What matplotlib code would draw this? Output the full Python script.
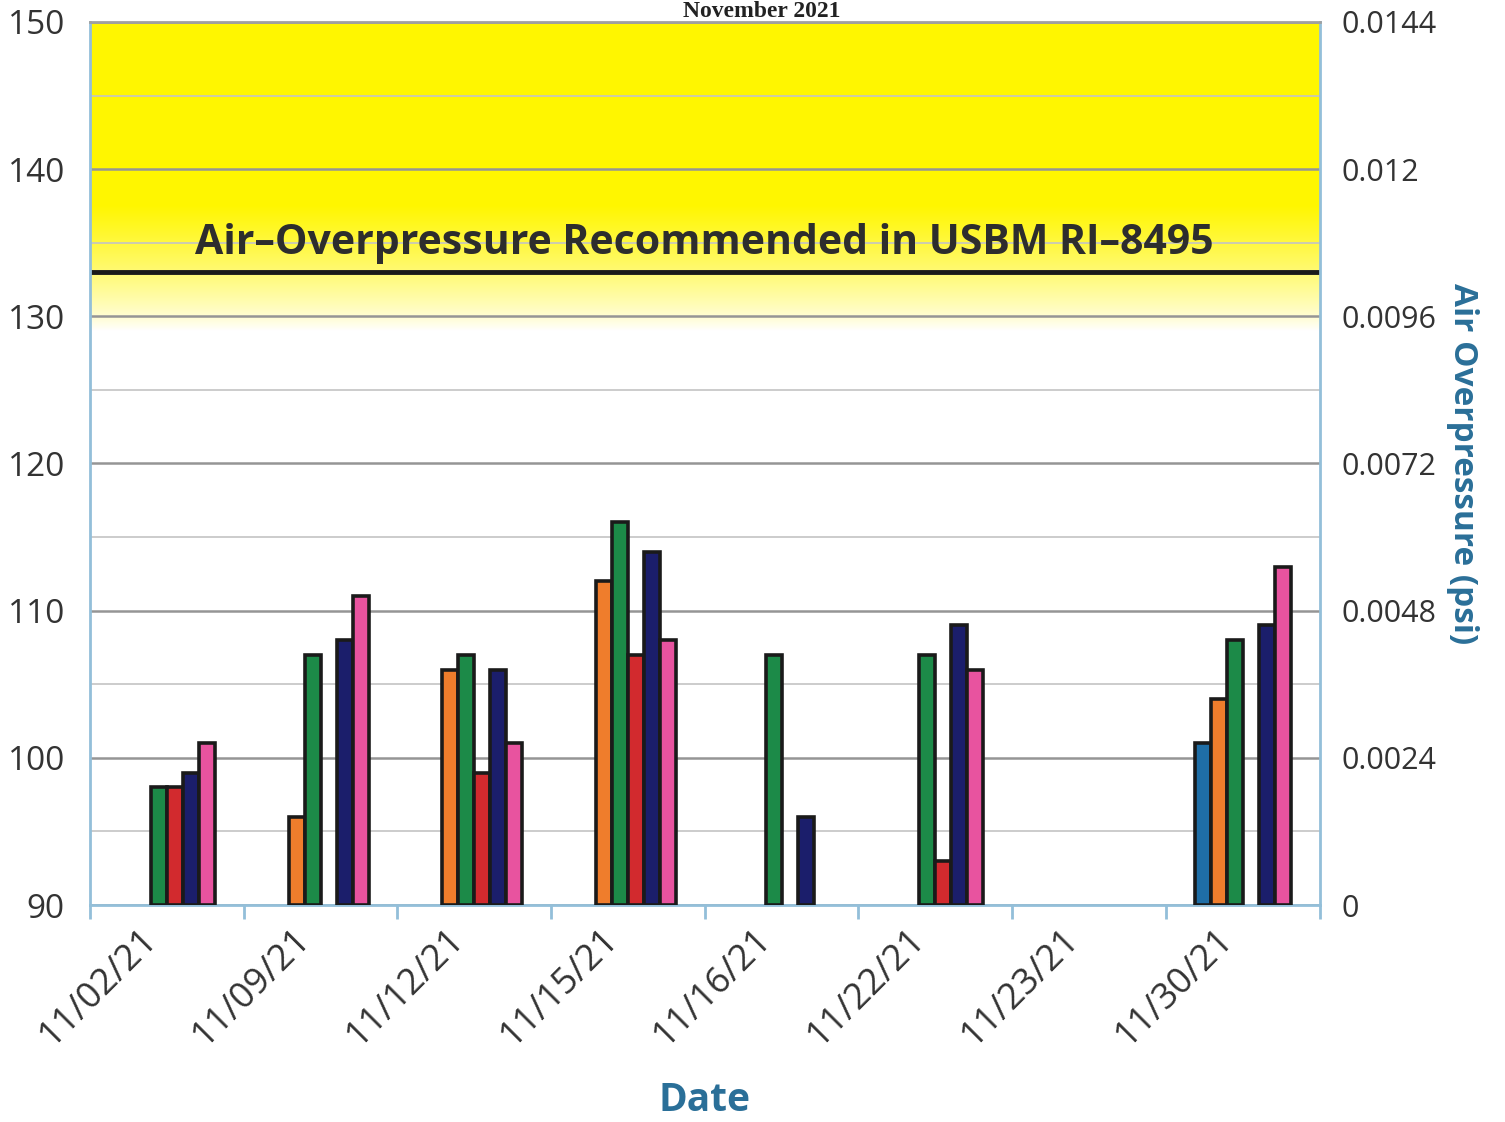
""" Air-overpressure bar chart for November 2021 blasts, with the USBM RI-8495 limit line """

import numpy as np
import matplotlib
matplotlib.use("Agg")
import matplotlib.pyplot as plt

# Dates on the x axis
dates = ["11/02/21", "11/09/21", "11/12/21", "11/15/21",
         "11/16/21", "11/22/21", "11/23/21", "11/30/21"]

# Air overpressure (dB) per monitoring point, None where no reading
blue = [None, None, None, None, None, None, None, 101]
orange = [None, 96, 106, 112, None, None, None, 104]
green = [98, 107, 107, 116, 107, 107, None, 108]
red = [98, None, 99, 107, None, 93, None, None]
navy = [99, 108, 106, 114, 96, 109, None, 109]
pink = [101, 111, 101, 108, None, 106, None, 113]

series = [blue, orange, green, red, navy, pink]
colors = ["#1f6ea6", "#ef7d2c", "#1c8a48", "#d22a2e", "#1b1e6b", "#e8539f"]

# Axis ranges and ticks
left_ticks = [90, 100, 110, 120, 130, 140, 150]
right_ticks = [0, 0.0024, 0.0048, 0.0072, 0.0096, 0.012, 0.0144]
right_labels = ["0", "0.0024", "0.0048", "0.0072", "0.0096", "0.012", "0.0144"]
limit_db = 133
limit_text = "Air\u2013Overpressure Recommended in USBM RI\u20138495"

plt.rcParams['font.family'] = ['Open Sans', 'DejaVu Sans']

fig = plt.figure(figsize=(15.05, 11.22), dpi=100)
ax = fig.add_axes([0.0598, 0.1934, 0.817, 0.787])

n = len(dates)
x = np.arange(n)
ax.set_xlim(-0.5, n - 0.5)
ax.set_ylim(90, 150)

# Yellow band fading to white below the limit
ys = np.linspace(150, 126, 300)
fade = np.clip((ys - 129) / (137.5 - 129), 0, 1) ** 0.8
yellow = np.array([1.0, 0.965, 0.0])
white = np.array([1.0, 1.0, 1.0])
band = white + (yellow - white) * fade[:, None]
band = np.repeat(band[:, None, :], 2, axis=1)
ax.imshow(band, extent=[-0.5, n - 0.5, 126, 150], aspect='auto', zorder=0,
          interpolation='bilinear')

# Grid lines every 10 and lighter ones every 5
ax.set_yticks(left_ticks)
ax.set_yticks(np.arange(95, 150, 10), minor=True)
ax.grid(axis='y', which='major', color='#959595', lw=1.8, zorder=1)
ax.grid(axis='y', which='minor', color='#c4c4c4', lw=1.2, zorder=1)

# Bars, six slots per date
w = 0.104
for k, (vals, c) in enumerate(zip(series, colors)):
    xs = [x[i] + (k - 2.5) * w for i, v in enumerate(vals) if v is not None]
    hs = [v - 90 for v in vals if v is not None]
    ax.bar(xs, hs, bottom=90, width=w, color=c, edgecolor='#1a1a1a',
           linewidth=2.6, zorder=3)

# Recommended limit line and its label
ax.axhline(limit_db, color='#1a1a1a', lw=3.5, zorder=2)
ax.text((n - 1) / 2, limit_db + 0.55, limit_text, ha='center', va='bottom',
        fontsize=29.5, fontweight='bold', color='#2d2d2d', zorder=4)

# Axes styling
for side in ['left', 'right', 'bottom']:
    ax.spines[side].set_color('#93bfd9')
    ax.spines[side].set_linewidth(2)
ax.spines['top'].set_color('#a0a0a0')
ax.spines['top'].set_linewidth(2)

# date labels sit a little left of the group centre (invisible ticks)
ax.set_xticks(x - 0.1)
ax.set_xticklabels(dates, rotation=45, ha='right', va='center',
                   rotation_mode='anchor', fontsize=26, color='#333333')
ax.set_xticks(np.arange(-0.5, n, 1), minor=True)
ax.tick_params(axis='x', which='major', length=0, pad=21)
ax.tick_params(axis='x', which='minor', length=10, width=2, color='#93bfd9')
ax.tick_params(axis='y', which='both', length=0, pad=18, labelsize=24,
               labelcolor='#333333')
ax.set_xlabel("Date", fontsize=28, fontweight='bold', color='#2a6f98',
              labelpad=20)

# Right axis in psi
ax2 = ax.twinx()
ax2.set_ylim(0, 0.0144)
ax2.set_yticks(right_ticks)
ax2.set_yticklabels(right_labels)
ax2.tick_params(axis='y', length=0, pad=16, labelsize=22, labelcolor='#333333')
for s in ax2.spines.values():
    s.set_visible(False)
ax2.set_ylabel("Air Overpressure (psi)", rotation=270, fontsize=24,
               fontweight='bold', color='#2a6f98', labelpad=30)

# Title squeezed into the top margin
fig.text(0.506, 0.9995, "November 2021", ha='center', va='top',
         fontsize=17, fontweight='bold', family='Liberation Serif',
         color='#222222')

fig.savefig("out.png", dpi=100)
